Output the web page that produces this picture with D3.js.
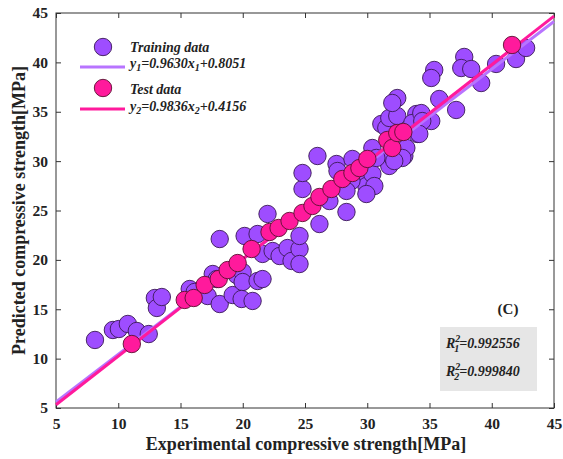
<!DOCTYPE html>
<html><head><meta charset="utf-8">
<script src="https://cdn.jsdelivr.net/npm/d3@7"></script>
<style>body{margin:0;background:#fff}svg{display:block}</style>
</head><body>
<script>
const trainX = [8.13,9.57,10.05,10.77,11.49,12.45,12.94,13.10,13.50,15.74,16.14,17.18,17.59,17.91,18.15,19.19,19.51,19.99,19.99,19.91,20.79,21.19,21.59,18.15,20.15,21.19,21.99,21.59,22.40,22.96,23.60,23.92,24.56,24.56,24.56,26.16,24.80,24.80,26.00,27.53,27.61,28.81,29.53,29.93,30.41,30.41,30.57,31.77,31.93,32.98,31.13,31.53,31.77,32.41,32.41,32.01,33.94,33.62,34.02,30.73,28.73,28.33,29.93,28.33,26.96,35.38,35.14,37.79,37.55,38.35,39.15,40.35,41.95,42.76,35.78,37.14,34.34,35.14,34.42,34.18,33.14,32.82,32.17];
const trainY = [11.89,12.90,13.00,13.51,12.80,12.49,16.14,15.13,16.24,17.05,16.75,16.34,18.57,18.06,15.53,16.44,18.47,18.77,17.76,16.04,15.84,17.86,18.06,22.11,22.42,22.62,24.65,20.60,20.90,20.39,21.20,19.89,21.10,19.58,22.42,23.63,27.18,28.80,30.52,29.71,29.00,30.22,28.29,27.48,31.33,28.70,27.48,29.51,30.52,30.52,33.76,33.36,34.37,34.57,36.39,35.89,34.77,33.86,32.75,30.32,27.99,26.98,26.67,24.85,25.96,39.23,38.42,40.55,39.43,39.33,37.91,39.84,40.34,41.46,36.29,35.18,34.87,34.06,34.06,32.75,31.33,30.32,30.01];
const testX = [11.09,15.34,16.06,16.94,18.07,18.79,19.59,20.71,22.15,22.88,23.76,24.80,25.60,26.16,27.12,28.00,28.81,29.37,30.01,31.61,32.01,32.41,32.90,41.63];
const testY = [11.48,15.94,16.14,17.46,18.06,18.97,19.68,21.10,22.82,23.23,23.94,24.75,25.46,26.37,27.18,28.19,28.80,29.30,30.22,32.14,31.33,32.85,32.95,41.76];
const xTicks = [5,10,15,20,25,30,35,40,45];
const yTicks = [5,10,15,20,25,30,35,40,45];
const fit1 = [0.9630, 0.8051];
const fit2 = [0.9836, 0.4156];
const legendLabels = ["Training data", "Test data"];
const r2Values = ["0.992556", "0.999840"];

const W = 563, H = 459;
const L = 56, R = 554, T = 13, B = 408;
const svg = d3.select("body").append("svg").attr("width", W).attr("height", H);
const x = d3.scaleLinear().domain([5,45]).range([L,R]);
const y = d3.scaleLinear().domain([5,45]).range([B,T]);
const font = "'Liberation Serif','Times New Roman',serif";
const purple = "#9e4dff", pink = "#ff1a9c", purpleLine = "#b874ff", pinkLine = "#ff1a9c";

// axes
const ax = svg.append("g").attr("transform",`translate(0,${B})`).call(d3.axisBottom(x).tickValues(xTicks).tickSizeInner(-5).tickSizeOuter(0).tickPadding(10));
const axT = svg.append("g").attr("transform",`translate(0,${T})`).call(d3.axisTop(x).tickValues(xTicks).tickSizeInner(-5).tickSizeOuter(0).tickFormat(""));
const ay = svg.append("g").attr("transform",`translate(${L},0)`).call(d3.axisLeft(y).tickValues(yTicks).tickSizeInner(-5).tickSizeOuter(0).tickPadding(8));
const ayR = svg.append("g").attr("transform",`translate(${R},0)`).call(d3.axisRight(y).tickValues(yTicks).tickSizeInner(-5).tickSizeOuter(0).tickFormat(""));
[ax,axT,ay,ayR].forEach(g=>{g.select(".domain").remove();g.selectAll("line").attr("stroke","#333");
  g.selectAll("text").attr("font-family",font).attr("font-weight","bold").attr("font-size",15.5).attr("fill","#222");});
svg.append("rect").attr("x",L).attr("y",T).attr("width",R-L).attr("height",B-T).attr("fill","none").attr("stroke","#333").attr("stroke-width",1);

// titles
svg.append("text").attr("x",306).attr("y",450).attr("text-anchor","middle").attr("font-family",font).attr("font-weight","bold").attr("font-size",18).attr("fill","#222").text("Experimental compressive strength[MPa]");
svg.append("text").attr("transform",`translate(25,${(T+B)/2}) rotate(-90)`).attr("text-anchor","middle").attr("font-family",font).attr("font-weight","bold").attr("font-size",18).attr("fill","#222").text("Predicted compressive strength[MPa]");

const plot = svg.append("g");
const rr = 8.7;
plot.selectAll("circle.tr").data(trainX.map((d,i)=>[d,trainY[i]])).enter().append("circle")
  .attr("cx",d=>x(d[0])).attr("cy",d=>y(d[1])).attr("r",rr).attr("fill",purple).attr("stroke","#3a1a55").attr("stroke-width",0.9);
plot.append("line").attr("x1",x(5)).attr("y1",y(fit1[0]*5+fit1[1])).attr("x2",x(45)).attr("y2",y(fit1[0]*45+fit1[1])).attr("stroke",purpleLine).attr("stroke-width",3);
plot.append("line").attr("x1",x(5)).attr("y1",y(fit2[0]*5+fit2[1])).attr("x2",x(45)).attr("y2",y(fit2[0]*45+fit2[1])).attr("stroke",pinkLine).attr("stroke-width",3);
plot.selectAll("circle.te").data(testX.map((d,i)=>[d,testY[i]])).enter().append("circle")
  .attr("cx",d=>x(d[0])).attr("cy",d=>y(d[1])).attr("r",rr).attr("fill",pink).attr("stroke","#5a1030").attr("stroke-width",0.9);

// legend
const lg = svg.append("g").attr("font-family",font).attr("font-weight","bold").attr("font-style","italic").attr("font-size",14).attr("fill","#222");
lg.append("circle").attr("cx",103).attr("cy",47).attr("r",rr).attr("fill",purple).attr("stroke","#3a1a55").attr("stroke-width",0.9);
lg.append("text").attr("x",130).attr("y",52).text(legendLabels[0]);
lg.append("line").attr("x1",80).attr("x2",125).attr("y1",67).attr("y2",67).attr("stroke",purpleLine).attr("stroke-width",3);
const t1 = lg.append("text").attr("x",130).attr("y",68);
t1.append("tspan").text("y");t1.append("tspan").attr("dy",3).attr("font-size",10).text("1");
t1.append("tspan").attr("dy",-3).text(`=${fit1[0].toFixed(4)}x`);t1.append("tspan").attr("dy",3).attr("font-size",10).text("1");
t1.append("tspan").attr("dy",-3).text(`+${fit1[1].toFixed(4)}`);
lg.append("circle").attr("cx",103).attr("cy",88).attr("r",rr).attr("fill",pink).attr("stroke","#5a1030").attr("stroke-width",0.9);
lg.append("text").attr("x",130).attr("y",94).text(legendLabels[1]);
lg.append("line").attr("x1",80).attr("x2",125).attr("y1",109).attr("y2",109).attr("stroke",pinkLine).attr("stroke-width",3);
const t2 = lg.append("text").attr("x",130).attr("y",111);
t2.append("tspan").text("y");t2.append("tspan").attr("dy",3).attr("font-size",10).text("2");
t2.append("tspan").attr("dy",-3).text(`=${fit2[0].toFixed(4)}x`);t2.append("tspan").attr("dy",3).attr("font-size",10).text("2");
t2.append("tspan").attr("dy",-3).text(`+${fit2[1].toFixed(4)}`);

// (C) label
svg.append("text").attr("x",508).attr("y",314).attr("text-anchor","middle").attr("font-family",font).attr("font-weight","bold").attr("font-size",15).attr("fill","#222").text("(C)");

// R2 box
svg.append("rect").attr("x",440).attr("y",327).attr("width",97).attr("height",64).attr("fill","#e6e6e6");
const rg = svg.append("g").attr("font-family",font).attr("font-weight","bold").attr("font-style","italic").attr("font-size",14).attr("fill","#222");
r2Values.forEach((v,i)=>{
  const t = rg.append("text").attr("x",446).attr("y",348+i*28);
  t.append("tspan").text("R");
  t.append("tspan").attr("font-size",10).attr("dy",-6).text("2");
  t.append("tspan").attr("font-size",10).attr("dx",-6).attr("dy",10).text(String(i+1));
  t.append("tspan").attr("dy",-4).text("="+v);
});
</script>
</body></html>
